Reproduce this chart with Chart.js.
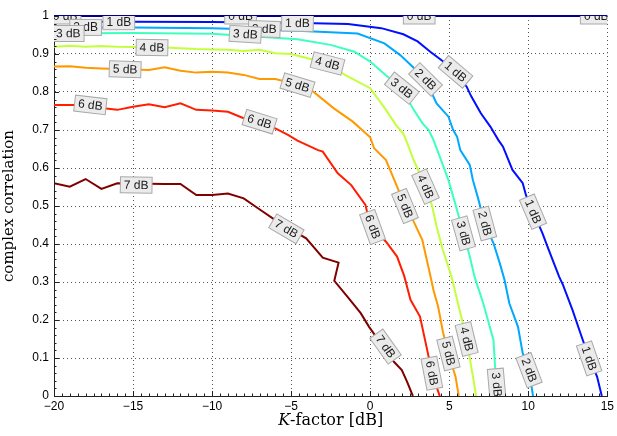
<!DOCTYPE html>
<html><head><meta charset="utf-8">
<script src="https://cdn.jsdelivr.net/npm/chart.js@4/dist/chart.umd.min.js"></script>
<style>html,body{margin:0;padding:0;background:#fff}#wrap{width:617px;height:436px;position:relative}</style>
</head><body><div id="wrap"><canvas id="c"></canvas></div>
<script>
// ---- tick labels ----
const xTicks = [-20, -15, -10, -5, 0, 5, 10, 15];
const xTickLabels = ['\u221220', '\u221215', '\u221210', '\u22125', '0', '5', '10', '15'];
const yTicks = [0, 0.1, 0.2, 0.3, 0.4, 0.5, 0.6, 0.7, 0.8, 0.9, 1];
const yTickLabels = ['0', '0.1', '0.2', '0.3', '0.4', '0.5', '0.6', '0.7', '0.8', '0.9', '1'];

// ---- contour levels (K-factor [dB] vs complex correlation) ----
const levelNames = ['0 dB', '1 dB', '2 dB', '3 dB', '4 dB', '5 dB', '6 dB', '7 dB'];

const k0 = [-20, 15];
const r0 = [1, 1];

const k1 = [-20, -15, -10, -5, -1.4, 0.7, 2.1, 3.0, 3.8, 4.6, 5.4, 6.1, 6.4, 7.0, 7.6, 8.1, 8.4, 9.0, 9.65, 9.85, 10.3, 10.9, 11.3, 11.95, 12.2, 12.8, 13.3, 13.85, 14.35, 14.65];
const r1 = [0.985, 0.985, 0.984, 0.982, 0.979, 0.968, 0.952, 0.933, 0.906, 0.881, 0.853, 0.814, 0.788, 0.744, 0.709, 0.674, 0.656, 0.595, 0.560, 0.529, 0.485, 0.428, 0.384, 0.314, 0.292, 0.226, 0.165, 0.099, 0.051, 0];

const k2 = [-20, -15, -10, -4.6, -0.8, 0.9, 1.9, 2.7, 3.5, 4.2, 4.95, 5.25, 5.5, 5.7, 6.3, 6.5, 6.8, 7.25, 7.8, 8.2, 8.5, 8.8, 9.35, 9.65, 10.05, 10.3];
const r2 = [0.970, 0.970, 0.968, 0.961, 0.954, 0.928, 0.897, 0.866, 0.833, 0.770, 0.735, 0.700, 0.682, 0.647, 0.608, 0.568, 0.524, 0.454, 0.402, 0.349, 0.305, 0.244, 0.182, 0.112, 0.068, 0];

const k3 = [-20, -15, -10, -4.6, -2.5, -1.0, 0, 1.1, 2.0, 2.75, 3.3, 3.7, 4.0, 4.4, 4.95, 5.4, 5.9, 6.3, 6.6, 7.15, 7.8, 7.9, 8.0, 8.1];
const r3 = [0.954, 0.955, 0.953, 0.939, 0.924, 0.906, 0.880, 0.840, 0.810, 0.753, 0.718, 0.700, 0.674, 0.630, 0.568, 0.503, 0.428, 0.367, 0.314, 0.244, 0.147, 0.077, 0.030, 0];

const k4 = [-20, -19, -18, -17, -16, -13, -12, -11, -10, -9, -8, -7, -6, -5, -3.9, -2.7, -1.6, 0, 1.0, 1.6, 2.1, 2.35, 2.75, 3.5, 3.9, 4.2, 4.6, 5.15, 5.45, 6.1, 6.3, 6.5, 6.7];
const r4 = [0.919, 0.922, 0.919, 0.921, 0.919, 0.917, 0.915, 0.913, 0.912, 0.911, 0.908, 0.911, 0.902, 0.900, 0.888, 0.875, 0.845, 0.810, 0.753, 0.715, 0.690, 0.665, 0.621, 0.551, 0.503, 0.446, 0.384, 0.314, 0.261, 0.150, 0.099, 0.051, 0];

const k5 = [-20, -19, -18, -17, -14, -13, -12, -11, -10, -9, -8, -7, -6, -5.3, -4.6, -3.6, -2.3, -1.1, 0, 0.25, 1.0, 1.7, 2.2, 2.65, 3.3, 3.8, 4.0, 4.3, 4.6, 4.95, 5.4, 5.6];
const r5 = [0.867, 0.868, 0.864, 0.862, 0.858, 0.865, 0.856, 0.851, 0.853, 0.851, 0.845, 0.834, 0.834, 0.827, 0.818, 0.801, 0.757, 0.722, 0.681, 0.652, 0.621, 0.551, 0.500, 0.468, 0.410, 0.318, 0.279, 0.235, 0.169, 0.112, 0.051, 0];

const k6 = [-20, -18.7, -16, -15, -14, -13, -12, -11, -10, -9, -8, -7, -6, -5.2, -4.6, -3.3, -3.0, -2.05, -1.2, -0.3, -0.2, 0.15, 1.0, 1.7, 2.15, 2.55, 3.15, 3.7, 3.9, 4.4];
const r6 = [0.766, 0.766, 0.753, 0.761, 0.768, 0.760, 0.770, 0.753, 0.751, 0.748, 0.731, 0.718, 0.704, 0.687, 0.672, 0.647, 0.643, 0.586, 0.555, 0.503, 0.485, 0.445, 0.406, 0.367, 0.316, 0.253, 0.209, 0.103, 0.060, 0];

const k7 = [-20, -19, -18, -17, -16, -13, -12, -11, -10, -9, -8, -7.1, -6, -4.05, -3.0, -2.0, -2.27, -1.43, -0.6, -0.07, 1.5, 2.0, 2.33, 2.7];
const r7 = [0.560, 0.551, 0.571, 0.545, 0.560, 0.558, 0.558, 0.529, 0.529, 0.533, 0.520, 0.494, 0.463, 0.415, 0.364, 0.351, 0.303, 0.261, 0.218, 0.182, 0.090, 0.068, 0.038, 0];

// ---- inline label anchor points (on the curves) ----
const lab0K = [-19.3, -8.2, 3.1, 14.3];        const lab0R = [1, 1, 1, 1];
const lab1K = [-15.9, -4.6, 5.4, 10.3, 13.85]; const lab1R = [0.985, 0.981, 0.853, 0.485, 0.099];
const lab2K = [-18.0, -6.7, 3.5, 7.25, 10.05]; const lab2R = [0.970, 0.966, 0.833, 0.454, 0.068];
const lab3K = [-19.1, -7.9, 2.0, 5.9, 8.0];    const lab3R = [0.954, 0.952, 0.810, 0.428, 0.030];
const lab4K = [-13.8, -2.7, 3.5, 6.1];         const lab4R = [0.917, 0.875, 0.551, 0.150];
const lab5K = [-15.5, -4.6, 2.2, 4.95];        const lab5R = [0.860, 0.818, 0.500, 0.112];
const lab6K = [-17.7, -7.0, 0.15, 3.9];        const lab6R = [0.766, 0.722, 0.445, 0.060];
const lab7K = [-14.8, -5.3, 0.97];             const lab7R = [0.555, 0.440, 0.130];

const colors = ['#000090', '#0010ff', '#00a8ff', '#3cffc0', '#c4ff3b', '#ff9900', '#ff1e00', '#800000'];

const ks = [k0, k1, k2, k3, k4, k5, k6, k7];
const rs = [r0, r1, r2, r3, r4, r5, r6, r7];
const labKs = [lab0K, lab1K, lab2K, lab3K, lab4K, lab5K, lab6K, lab7K];
const labRs = [lab0R, lab1R, lab2R, lab3R, lab4R, lab5R, lab6R, lab7R];

const datasets = levelNames.map((name, i) => ({
  label: name,
  data: ks[i].map((k, j) => ({ x: k, y: rs[i][j] })),
  showLine: true,
  borderColor: colors[i],
  backgroundColor: colors[i],
  borderWidth: 2,
  pointRadius: 0,
  tension: 0,
  clip: i === 0 ? 3 : 0
}));

function segDist(px, py, ax, ay, bx, by) {
  const dx = bx - ax, dy = by - ay;
  const L = dx * dx + dy * dy;
  let t = L ? ((px - ax) * dx + (py - ay) * dy) / L : 0;
  t = Math.max(0, Math.min(1, t));
  const qx = ax + t * dx, qy = ay + t * dy;
  return Math.hypot(px - qx, py - qy);
}

const labelPlugin = {
  id: 'contourLabels',
  afterDatasetsDraw(chart) {
    const { ctx, chartArea: a, scales: { x, y } } = chart;
    ctx.save();
    ctx.beginPath();
    ctx.rect(a.left, a.top, a.right - a.left, a.bottom - a.top);
    ctx.clip();
    ctx.font = '12px "Liberation Sans", Arial, sans-serif';
    ctx.textAlign = 'center';
    ctx.textBaseline = 'middle';
    levelNames.forEach((name, i) => {
      const px = ks[i].map(v => x.getPixelForValue(v));
      const py = rs[i].map(v => y.getPixelForValue(v));
      labKs[i].forEach((lk, n) => {
        const lx = x.getPixelForValue(lk), ly = y.getPixelForValue(labRs[i][n]);
        let best = 0, bd = Infinity;
        for (let j = 0; j < px.length - 1; j++) {
          const d = segDist(lx, ly, px[j], py[j], px[j + 1], py[j + 1]);
          if (d < bd) { bd = d; best = j; }
        }
        let ang = Math.atan2(py[best + 1] - py[best], px[best + 1] - px[best]);
        if (ang > Math.PI / 2) ang -= Math.PI;
        if (ang < -Math.PI / 2) ang += Math.PI;
        const w = ctx.measureText(name).width + 7, h = 16;
        ctx.save();
        ctx.translate(lx, ly);
        ctx.rotate(ang);
        ctx.fillStyle = '#ebebeb';
        ctx.fillRect(-w / 2, -h / 2, w, h);
        ctx.strokeStyle = '#a9a9a9';
        ctx.lineWidth = 1;
        ctx.strokeRect(-w / 2, -h / 2, w, h);
        ctx.fillStyle = '#1a1a1a';
        ctx.fillText(name, 0, 0.5);
        ctx.restore();
      });
    });
    ctx.restore();
  }
};

const axisPlugin = {
  id: 'axisDecor',
  afterDraw(chart) {
    const { ctx, chartArea: a, scales: { x, y } } = chart;
    ctx.save();
    ctx.strokeStyle = '#222';
    ctx.lineWidth = 1;
    ctx.beginPath();
    for (let v = -20; v <= 15.001; v += 0.5) {
      const p = Math.round(x.getPixelForValue(v)) + 0.5;
      const major = Math.abs(v % 5) < 1e-6;
      const len = major ? 5 : 2.5;
      ctx.moveTo(p, a.bottom); ctx.lineTo(p, a.bottom - len);
    }
    for (let v = 0; v <= 1.0001; v += 0.02) {
      const p = Math.round(y.getPixelForValue(v)) + 0.5;
      const major = Math.abs(Math.round(v * 10) - v * 10) < 1e-6;
      const len = major ? 5 : 2.5;
      ctx.moveTo(a.left, p); ctx.lineTo(a.left + len, p);
    }
    ctx.stroke();
    // x axis title with italic K
    const cx = (a.left + a.right) / 2, by = 425;
    const fItal = 'italic 16px "DejaVu Serif", "Liberation Serif", serif';
    const fNorm = '16px "DejaVu Serif", "Liberation Serif", serif';
    ctx.font = fItal; const wK = ctx.measureText('K').width;
    ctx.font = fNorm; const wR = ctx.measureText('-factor [dB]').width;
    let sx = cx - (wK + wR) / 2;
    ctx.fillStyle = '#000';
    ctx.textBaseline = 'alphabetic';
    ctx.textAlign = 'left';
    ctx.font = fItal; ctx.fillText('K', sx, by);
    ctx.font = fNorm; ctx.fillText('-factor [dB]', sx + wK, by);
    ctx.restore();
  }
};

new Chart(document.getElementById('c'), {
  type: 'scatter',
  data: { datasets },
  options: {
    responsive: true,
    maintainAspectRatio: false,
    animation: false,
    devicePixelRatio: 1,
    layout: { padding: { top: 16, right: 5, left: 0, bottom: 0 } },
    plugins: { legend: { display: false }, tooltip: { enabled: false } },
    scales: {
      x: {
        type: 'linear', min: -20, max: 15,
        afterBuildTicks: s => { s.ticks = xTicks.map(v => ({ value: v })); },
        afterFit: s => { s.height = 40; },
        ticks: {
          callback: (v, i) => xTickLabels[i],
          color: '#000', padding: 3, maxRotation: 0,
          font: { family: '"Liberation Sans", Arial, sans-serif', size: 12 }
        },
        grid: { color: '#555', lineWidth: 1, tickLength: 0, drawTicks: false },
        border: { display: true, color: '#222', width: 1, dash: [1, 3] }
      },
      y: {
        type: 'linear', min: 0, max: 1,
        afterBuildTicks: s => { s.ticks = yTicks.map(v => ({ value: v })); },
        afterFit: s => { s.width = 54; },
        ticks: {
          callback: (v, i) => yTickLabels[i],
          color: '#000', padding: 5,
          font: { family: '"Liberation Sans", Arial, sans-serif', size: 12 }
        },
        grid: { color: '#555', lineWidth: 1, tickLength: 0, drawTicks: false },
        border: { display: true, color: '#222', width: 1, dash: [1, 3] },
        title: {
          display: true, text: 'complex correlation', color: '#000',
          font: { family: '"DejaVu Serif", "Liberation Serif", serif', size: 15 },
          padding: { top: 0, bottom: 2 }
        }
      }
    }
  },
  plugins: [labelPlugin, axisPlugin]
});
</script>
</body></html>
